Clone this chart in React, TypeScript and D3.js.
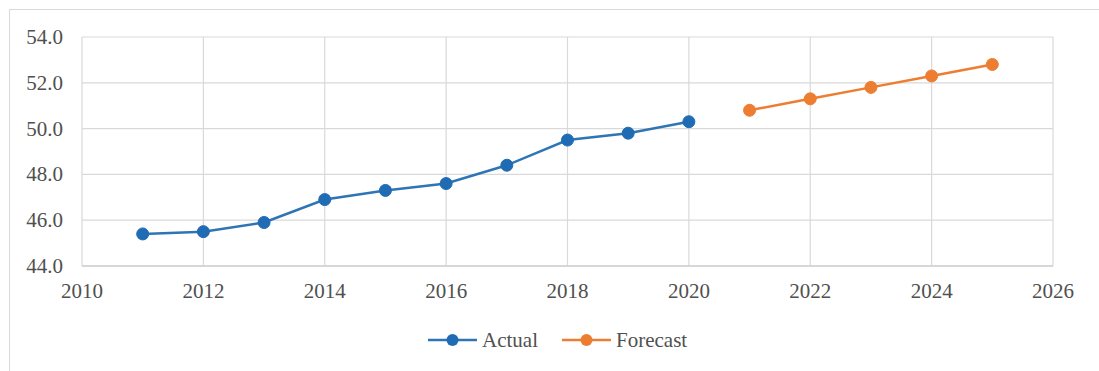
import React from "react";
import * as d3 from "d3";

const actualYears = [2011, 2012, 2013, 2014, 2015, 2016, 2017, 2018, 2019, 2020];
const actualValues = [45.4, 45.5, 45.9, 46.9, 47.3, 47.6, 48.4, 49.5, 49.8, 50.3];
const forecastYears = [2021, 2022, 2023, 2024, 2025];
const forecastValues = [50.8, 51.3, 51.8, 52.3, 52.8];
const xTicks = [2010, 2012, 2014, 2016, 2018, 2020, 2022, 2024, 2026];
const yTicks = [44, 46, 48, 50, 52, 54];
const seriesNames = ["Actual", "Forecast"];

const W = 1099;
const H = 371;
const left = 82;
const right = 1053;
const top = 37;
const bottom = 266;
const BLUE = "#2E75B6";
const BLUE_M = "#1F6CB4";
const ORANGE = "#ED7D31";
const TXT = "#505050";
const FONT = "'Liberation Serif', 'Times New Roman', serif";

export default function App() {
  const x = d3.scaleLinear().domain([2010, 2026]).range([left, right]);
  const y = d3.scaleLinear().domain([44, 54]).range([bottom, top]);
  const line = d3
    .line<[number, number]>()
    .x((d) => x(d[0]))
    .y((d) => y(d[1]));
  const actual: [number, number][] = actualYears.map((yr, i) => [yr, actualValues[i]]);
  const forecast: [number, number][] = forecastYears.map((yr, i) => [yr, forecastValues[i]]);

  const legendY = 340;
  const legendItems = [
    { name: seriesNames[0], color: BLUE, mcolor: BLUE_M, x0: 428 },
    { name: seriesNames[1], color: ORANGE, mcolor: ORANGE, x0: 562 },
  ];

  return (
    <svg
      width={W}
      height={H}
      style={{ position: "absolute", left: 0, top: 0, background: "#fff" }}
      fontFamily={FONT}
    >
      <rect x={9.5} y={9.5} width={1200} height={500} fill="#fff" stroke="#d9d9d9" strokeWidth={1} />
      {yTicks.map((t) => (
        <line key={"gy" + t} x1={left} x2={right} y1={y(t)} y2={y(t)} stroke="#d9d9d9" strokeWidth={1.2} />
      ))}
      {xTicks.map((t) => (
        <line key={"gx" + t} x1={x(t)} x2={x(t)} y1={top} y2={bottom} stroke="#d9d9d9" strokeWidth={1.2} />
      ))}
      <line x1={left} x2={right} y1={bottom} y2={bottom} stroke="#d0d0d0" strokeWidth={1.5} />
      {yTicks.map((t) => (
        <text
          key={"ty" + t}
          x={63}
          y={y(t)}
          textAnchor="end"
          dominantBaseline="central"
          fontSize={21}
          fill={TXT}
        >
          {t.toFixed(1)}
        </text>
      ))}
      {xTicks.map((t) => (
        <text key={"tx" + t} x={x(t)} y={298} textAnchor="middle" fontSize={21} fill={TXT}>
          {t}
        </text>
      ))}
      <path d={line(actual) || ""} fill="none" stroke={BLUE} strokeWidth={2.5} />
      {actual.map((d, i) => (
        <circle key={"a" + i} cx={x(d[0])} cy={y(d[1])} r={6} fill={BLUE_M} stroke={BLUE_M} strokeWidth={1} />
      ))}
      <path d={line(forecast) || ""} fill="none" stroke={ORANGE} strokeWidth={2.5} />
      {forecast.map((d, i) => (
        <circle key={"f" + i} cx={x(d[0])} cy={y(d[1])} r={6} fill={ORANGE} stroke={ORANGE} strokeWidth={1} />
      ))}
      {legendItems.map((it) => (
        <g key={it.name}>
          <line x1={it.x0} x2={it.x0 + 49} y1={legendY} y2={legendY} stroke={it.color} strokeWidth={2.5} />
          <circle cx={it.x0 + 24.5} cy={legendY} r={6} fill={it.mcolor} />
          <text x={it.x0 + 54} y={legendY} dominantBaseline="central" fontSize={21} fill={TXT}>
            {it.name}
          </text>
        </g>
      ))}
    </svg>
  );
}
